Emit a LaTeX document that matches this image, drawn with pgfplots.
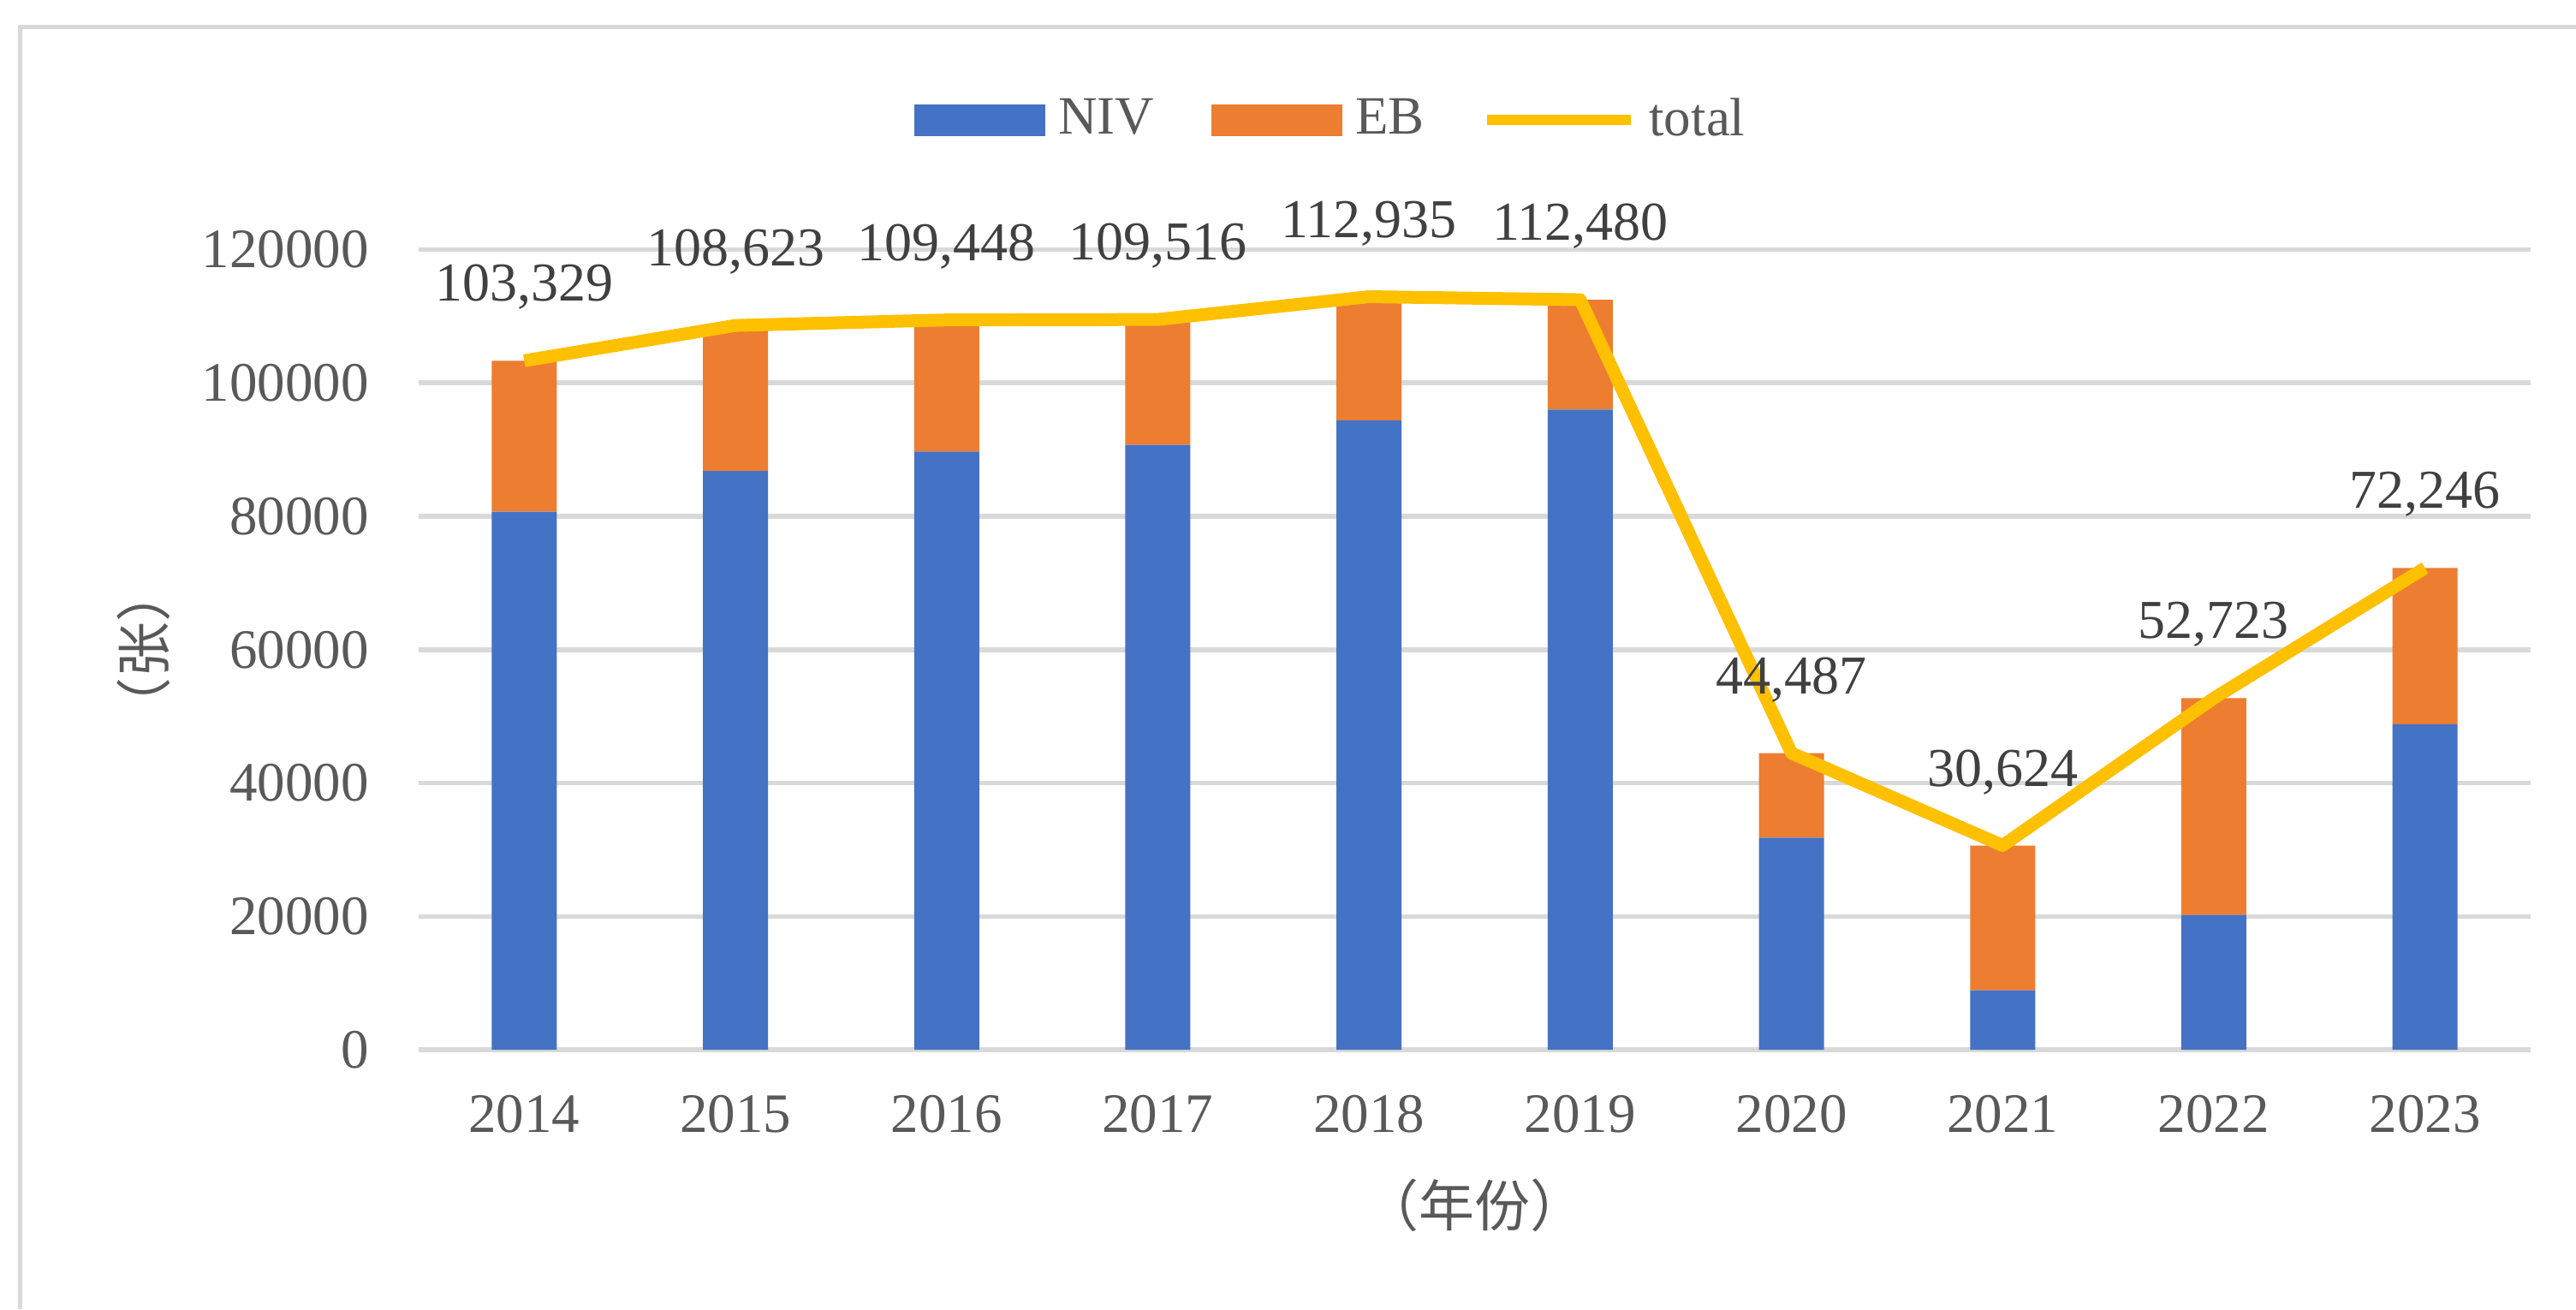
\documentclass[border=0pt]{standalone}
\usepackage{pgfplots}
\pgfplotsset{compat=1.18}
\usepackage{fontspec}
\setmainfont{Liberation Serif}
\newfontfamily\cjk{Noto Sans CJK SC}
\definecolor{niv}{HTML}{4472C4}
\definecolor{eb}{HTML}{ED7D31}
\definecolor{tot}{HTML}{FFC000}
\definecolor{gridc}{HTML}{D9D9D9}
\definecolor{txt}{HTML}{595959}
\definecolor{lbl}{HTML}{404040}
\pgfplotsset{
  base/.style={scale only axis, width=493.4pt, height=186.9pt,
    at={(97.8pt,60.6pt)}, anchor=south west,
    xmin=-0.5, xmax=9.5, ymin=0, ymax=120000,
    axis line style={draw=none}, tick style={draw=none}, major tick length=0pt},
  barleg/.style={legend image code/.code={\fill[##1, draw=none] (0pt,-3.7pt) rectangle (30.6pt,3.7pt);}},
  lineleg/.style={legend image code/.code={\draw[##1, line width=2.4pt] (0pt,0pt) -- (33.6pt,0pt);}},
}
\begin{document}
\begin{tikzpicture}
\useasboundingbox (0,0) rectangle (601.8pt,305.8pt);
\fill[white] (0,0) rectangle (601.8pt,305.8pt);
\draw[gridc, line width=1pt] (4.6pt,0) -- (4.6pt,299.4pt) -- (601.8pt,299.4pt);
\begin{axis}[base, ybar stacked, bar width=15.2pt,
  ymajorgrids, grid style={gridc, line width=1.1pt},
  ytick={0,20000,40000,60000,80000,100000,120000},
  scaled y ticks=false,
  /pgf/number format/.cd, fixed, 1000 sep={}, assume math mode=true, /pgfplots/.cd,
  xtick={0,1,2,3,4,5,6,7,8,9},
  xticklabels={2014,2015,2016,2017,2018,2019,2020,2021,2022,2023},
  ticklabel style={font=\fontsize{13}{15}\selectfont, text=txt},
  yticklabel style={anchor=east, inner sep=0pt, xshift=-11.4pt},
  xticklabel style={anchor=north, inner sep=0pt, yshift=-10.4pt},
  xlabel={（年份）}, ylabel={（张）},
  xlabel style={at={(axis description cs:0.5,-0.1948)}, anchor=center, font=\cjk\fontsize{13}{15}\selectfont, text=txt},
  ylabel style={at={(axis description cs:-0.1301,0.5)}, anchor=center, font=\cjk\fontsize{13}{15}\selectfont, text=txt},
]
\addplot[fill=niv, draw=none] coordinates {(0,80700) (1,86800) (2,89700) (3,90700) (4,94400) (5,96000) (6,31800) (7,8900) (8,20200) (9,48800)};
\addplot[fill=eb, draw=none] coordinates {(0,22629) (1,21823) (2,19748) (3,18816) (4,18535) (5,16480) (6,12687) (7,21724) (8,32523) (9,23446)};
\end{axis}
\begin{axis}[base, xtick=\empty, ytick=\empty,
  legend columns=3,
  legend style={at={(axis description cs:0.2347,1.162)}, anchor=west, draw=none, fill=none,
    inner sep=0pt, outer sep=0pt, font=\fontsize{12.6}{15}\selectfont, text=txt,
    /tikz/every odd column/.append style={column sep=3pt},
    /tikz/every even column/.append style={column sep=13.5pt},
    nodes={inner sep=0pt}},
]
\addlegendimage{barleg, fill=niv, draw=none}
\addlegendentry{NIV}
\addlegendimage{barleg, fill=eb, draw=none}
\addlegendentry{EB}
\addplot[tot, line width=3pt, line join=round, lineleg,
  nodes near coords, point meta=explicit symbolic,
  every node near coord/.append style={anchor=base, yshift=13.9pt, inner sep=0pt,
    font=\fontsize{12.8}{15}\selectfont, text=lbl}]
  coordinates {(0,103329)[103,329] (1,108623)[108,623] (2,109448)[109,448] (3,109516)[109,516] (4,112935)[112,935] (5,112480)[112,480] (6,44487)[44,487] (7,30624)[30,624] (8,52723)[52,723] (9,72246)[72,246]};
\addlegendentry{total}
\end{axis}
\end{tikzpicture}
\end{document}
